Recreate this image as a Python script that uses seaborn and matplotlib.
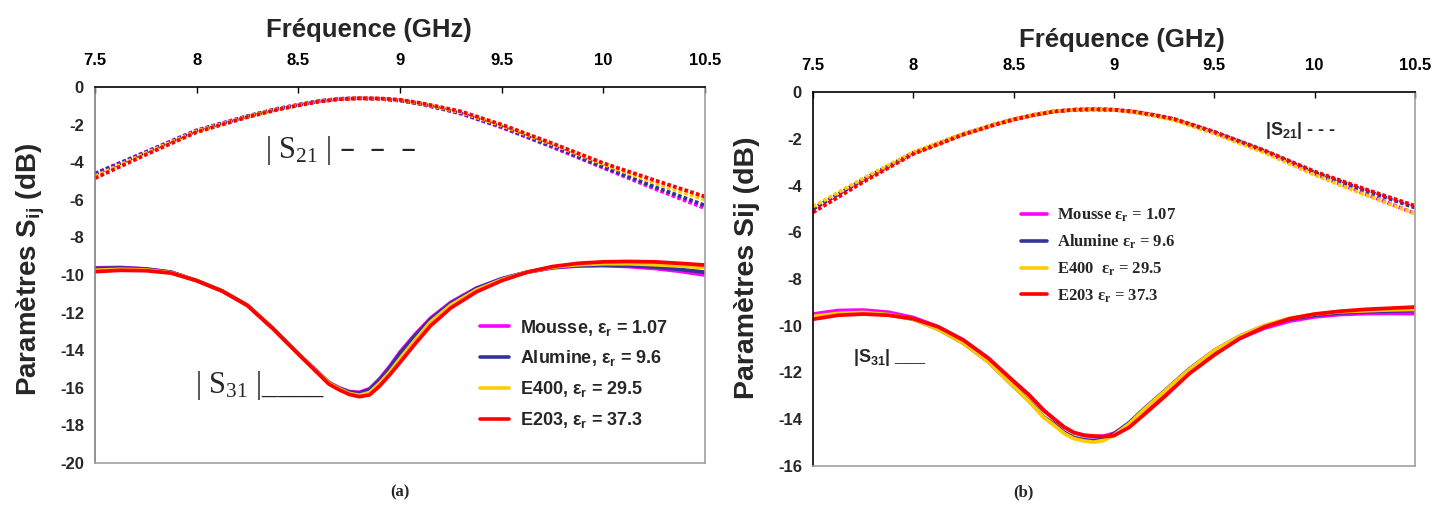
import matplotlib
matplotlib.use("Agg")
import numpy as np
import pandas as pd
import matplotlib.pyplot as plt
import seaborn as sns
from matplotlib.lines import Line2D

sns.set_style("white")
plt.rcParams["font.family"] = ["Liberation Sans", "DejaVu Sans"]
plt.rcParams["font.weight"] = "bold"
plt.rcParams["mathtext.default"] = "regular"
plt.rcParams["axes.unicode_minus"] = False

materials = ["Mousse", "Alumine", "E400", "E203"]
eps_r = ["1.07", "9.6", "29.5", "37.3"]
colors = ["#ff00ff", "#333399", "#ffcc00", "#ff0000"]

# frequency grids (GHz)
f21 = [7.5, 7.75, 8.0, 8.25, 8.4, 8.5, 8.6, 8.7, 8.8, 8.9, 9.0,
       9.1, 9.2, 9.3, 9.5, 9.75, 10.0, 10.25, 10.5]
f31 = [7.5, 7.625, 7.75, 7.875, 8.0, 8.125, 8.25, 8.375, 8.5, 8.575, 8.65,
       8.7, 8.75, 8.8, 8.85, 8.9, 8.95, 9.0, 9.075, 9.15, 9.25, 9.375,
       9.5, 9.625, 9.75, 9.875, 10.0, 10.125, 10.25, 10.375, 10.5]

# panel (a)  |S21|
a_s21_mousse = [-4.6, -3.45, -2.3, -1.55, -1.15, -0.95, -0.75, -0.63, -0.6, -0.63, -0.72,
                -0.9, -1.15, -1.42, -2.15, -3.2, -4.3, -5.4, -6.45]
a_s21_alumine = [-4.62, -3.47, -2.32, -1.55, -1.15, -0.95, -0.75, -0.63, -0.6, -0.63, -0.72,
                 -0.9, -1.14, -1.4, -2.12, -3.15, -4.25, -5.3, -6.3]
a_s21_e400 = [-4.75, -3.52, -2.35, -1.58, -1.17, -0.97, -0.77, -0.64, -0.6, -0.62, -0.7,
              -0.87, -1.1, -1.35, -2.05, -3.05, -4.1, -5.1, -6.0]
a_s21_e203 = [-4.85, -3.6, -2.4, -1.6, -1.2, -0.98, -0.78, -0.65, -0.6, -0.61, -0.68,
              -0.85, -1.07, -1.3, -2.0, -3.0, -4.05, -4.95, -5.83]
# panel (a)  |S31|
a_s31_mousse = [-9.62, -9.6, -9.68, -9.85, -10.3, -10.85, -11.62, -12.85, -14.2, -14.96, -15.72,
                -16.0, -16.2, -16.24, -16.05, -15.52, -14.85, -14.1, -13.15, -12.3, -11.45, -10.7,
                -10.2, -9.85, -9.62, -9.52, -9.5, -9.55, -9.65, -9.8, -10.0]
a_s31_alumine = [-9.65, -9.62, -9.68, -9.85, -10.3, -10.85, -11.62, -12.85, -14.2, -14.96, -15.72,
                 -16.02, -16.22, -16.28, -16.1, -15.58, -14.92, -14.18, -13.22, -12.35, -11.5, -10.72,
                 -10.2, -9.85, -9.6, -9.5, -9.48, -9.5, -9.57, -9.7, -9.85]
a_s31_e400 = [-9.75, -9.7, -9.73, -9.88, -10.3, -10.85, -11.62, -12.85, -14.2, -14.98, -15.75,
              -16.05, -16.3, -16.4, -16.25, -15.75, -15.15, -14.45, -13.45, -12.5, -11.6, -10.8,
              -10.25, -9.85, -9.58, -9.45, -9.4, -9.4, -9.45, -9.52, -9.6]
a_s31_e203 = [-9.82, -9.75, -9.77, -9.9, -10.3, -10.85, -11.62, -12.85, -14.2, -15.0, -15.8,
              -16.1, -16.35, -16.47, -16.38, -15.9, -15.3, -14.65, -13.65, -12.7, -11.75, -10.9,
              -10.3, -9.85, -9.55, -9.38, -9.3, -9.28, -9.3, -9.38, -9.47]

# panel (b)  |S21|
b_s21_mousse = [-5.0, -3.75, -2.6, -1.8, -1.4, -1.17, -0.98, -0.83, -0.76, -0.74, -0.76,
                -0.85, -1.0, -1.18, -1.75, -2.55, -3.5, -4.35, -5.2]
b_s21_alumine = [-5.0, -3.75, -2.6, -1.8, -1.4, -1.17, -0.98, -0.83, -0.76, -0.74, -0.76,
                 -0.85, -0.99, -1.17, -1.72, -2.52, -3.45, -4.2, -4.95]
b_s21_e400 = [-4.9, -3.7, -2.57, -1.78, -1.39, -1.16, -0.97, -0.83, -0.76, -0.74, -0.77,
              -0.87, -1.02, -1.2, -1.78, -2.6, -3.55, -4.4, -5.2]
b_s21_e203 = [-5.15, -3.85, -2.65, -1.82, -1.42, -1.18, -0.99, -0.84, -0.76, -0.74, -0.76,
              -0.84, -0.98, -1.15, -1.7, -2.5, -3.4, -4.15, -4.87]
# panel (b)  |S31|
b_s31_mousse = [-9.5, -9.35, -9.33, -9.42, -9.65, -10.05, -10.62, -11.4, -12.38, -12.95, -13.62,
                -13.98, -14.33, -14.57, -14.7, -14.75, -14.72, -14.6, -14.25, -13.72, -12.98, -12.0,
                -11.2, -10.55, -10.1, -9.8, -9.62, -9.52, -9.48, -9.47, -9.48]
b_s31_alumine = [-9.6, -9.47, -9.43, -9.52, -9.72, -10.15, -10.75, -11.55, -12.6, -13.2, -13.9,
                 -14.2, -14.55, -14.78, -14.88, -14.92, -14.85, -14.62, -14.15, -13.55, -12.8, -11.85,
                 -11.05, -10.45, -10.0, -9.72, -9.55, -9.45, -9.4, -9.37, -9.35]
b_s31_e400 = [-9.6, -9.47, -9.43, -9.52, -9.72, -10.15, -10.75, -11.55, -12.6, -13.22, -13.92,
              -14.25, -14.6, -14.83, -14.93, -14.98, -14.9, -14.68, -14.2, -13.58, -12.82, -11.87,
              -11.05, -10.45, -9.98, -9.68, -9.5, -9.4, -9.36, -9.32, -9.3]
b_s31_e203 = [-9.72, -9.55, -9.5, -9.55, -9.7, -10.05, -10.62, -11.4, -12.38, -12.95, -13.62,
              -13.98, -14.33, -14.57, -14.68, -14.72, -14.74, -14.7, -14.35, -13.8, -13.05, -12.05,
              -11.25, -10.55, -10.05, -9.7, -9.5, -9.38, -9.3, -9.25, -9.2]

panel_a = {"S21": [a_s21_mousse, a_s21_alumine, a_s21_e400, a_s21_e203],
           "S31": [a_s31_mousse, a_s31_alumine, a_s31_e400, a_s31_e203]}
panel_b = {"S21": [b_s21_mousse, b_s21_alumine, b_s21_e400, b_s21_e203],
           "S31": [b_s31_mousse, b_s31_alumine, b_s31_e400, b_s31_e203]}
grids = {"S21": f21, "S31": f31}


def to_long(panel):
    rows = []
    for param, series in panel.items():
        for mat, vals in zip(materials, series):
            for f, v in zip(grids[param], vals):
                rows.append({"freq": f, "db": v, "material": mat, "param": param})
    return pd.DataFrame(rows)


def draw_panel(ax, df, ymin):
    sns.lineplot(data=df, x="freq", y="db", hue="material", style="param",
                 hue_order=materials, palette=colors,
                 dashes={"S21": (1, 0.6), "S31": ""}, lw=2.7,
                 estimator=None, sort=False, legend=False, ax=ax)
    ax.set_xlim(7.5, 10.5)
    ax.set_ylim(ymin, 0)
    ax.set_xticks(np.arange(7.5, 10.51, 0.5))
    ax.set_xticklabels(["7.5", "8", "8.5", "9", "9.5", "10", "10.5"])
    ax.set_yticks(np.arange(ymin, 0.1, 2))
    ax.xaxis.tick_top()
    ax.xaxis.set_label_position("top")
    ax.tick_params(axis="x", direction="in", length=4, width=1, pad=14,
                   labelsize=12, colors="black")
    ax.tick_params(axis="y", direction="out", length=4, width=1, pad=4,
                   labelsize=12)
    ax.spines["top"].set_color("black")
    ax.spines["right"].set_color("#a0a0a0")
    ax.spines["bottom"].set_color("#a0a0a0")
    for s in ax.spines.values():
        s.set_linewidth(1.2)
    ax.set_xlabel("Fréquence (GHz)", fontsize=18.5, fontweight="bold")


fig = plt.figure(figsize=(14.47, 5.08), dpi=100)

# ---- panel (a)
ax1 = fig.add_axes([95 / 1447, 1 - 463 / 508, 610 / 1447, 376 / 508])
draw_panel(ax1, to_long(panel_a), -20)
ax1.spines["left"].set_color("#808080")
ax1.set_ylabel("Paramètres S$_{ij}$ (dB)", fontsize=20, fontweight="bold")
ax1.yaxis.set_label_coords(-0.079, 0.515)
ax1.xaxis.set_label_coords(0.449, 1.133)

handles = [Line2D([], [], color=c, lw=2.6) for c in colors]
labels_a = [f"{m}, ε$_r$ = {e}" for m, e in zip(materials, eps_r)]
ax1.legend(handles, labels_a, loc="upper left", bbox_to_anchor=(0.605, 0.43),
           frameon=False, handlelength=1.6, handletextpad=0.6,
           labelspacing=0.6, prop={"weight": "bold", "size": 13})
ax1.text(0.279, 0.832, "| S$_{21}$ | –  –  –", transform=ax1.transAxes,
         fontsize=22, family="Liberation Serif", fontweight="normal",
         ha="left", va="center")
ax1.text(0.164, 0.207, "| S$_{31}$ |____", transform=ax1.transAxes,
         fontsize=22, family="Liberation Serif", fontweight="normal",
         ha="left", va="center")

# ---- panel (b)
ax2 = fig.add_axes([813 / 1447, 1 - 466 / 508, 602 / 1447, 374 / 508])
draw_panel(ax2, to_long(panel_b), -16)
ax2.spines["left"].set_color("black")
ax2.set_ylabel("Paramètres Sij (dB)", fontsize=20.5, fontweight="bold")
ax2.yaxis.set_label_coords(-0.088, 0.53)
ax2.xaxis.set_label_coords(0.513, 1.12)

labels_b = [f"{m} ε$_r$ = {e}" for m, e in zip(materials, eps_r)]
labels_b[2] = "E400  ε$_r$ = 29.5"
ax2.legend(handles, labels_b, loc="upper left", bbox_to_anchor=(0.32, 0.734),
           frameon=False, handlelength=1.6, handletextpad=0.6,
           labelspacing=0.55,
           prop={"family": "Liberation Serif", "weight": "bold", "size": 12})
ax2.text(0.751, 0.898, "|S$_{21}$| - - -", transform=ax2.transAxes,
         fontsize=13, fontweight="bold", ha="left", va="center")
ax2.text(0.066, 0.289, "|S$_{31}$| ___", transform=ax2.transAxes,
         fontsize=13, fontweight="bold", ha="left", va="center")

# captions
fig.text(400 / 1447, 1 - 492 / 508, "(a)", family="Liberation Serif",
         fontweight="bold", fontsize=12, ha="center", va="center")
fig.text(1023 / 1447, 1 - 492 / 508, "(b)", family="Liberation Serif",
         fontweight="bold", fontsize=12, ha="center", va="center")

fig.savefig("out.png", dpi=100)
